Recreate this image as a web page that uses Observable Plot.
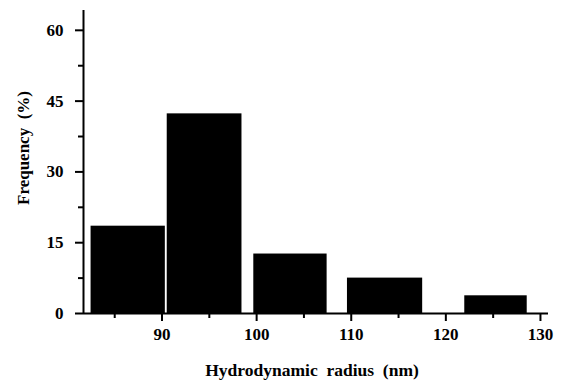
<!DOCTYPE html>
<html>
<head>
<meta charset="utf-8">
<script src="https://cdn.jsdelivr.net/npm/d3@7"></script>
<script src="https://cdn.jsdelivr.net/npm/@observablehq/plot@0.6"></script>
<style>
  body { margin: 0; background: #fff; }
</style>
</head>
<body>
<div id="chart"></div>
<script>
const binStart = [82.5, 90.55, 99.7, 109.6, 122.0];
const binEnd = [90.35, 98.45, 107.45, 117.55, 128.6];
const freq = [18.5, 42.3, 12.6, 7.5, 3.75];
const xMajor = [90, 100, 110, 120, 130];
const xMinor = [85, 95, 105, 115, 125];
const yMajor = [0, 15, 30, 45, 60];
const yMinor = [7.5, 22.5, 37.5, 52.5];
const xTitle = "Hydrodynamic  radius  (nm)";
const yTitle = "Frequency  (%)";

const data = binStart.map((s, i) => ({x1: s, x2: binEnd[i], y: freq[i]}));
const xDomain = [81.7, 130.85];

const chart = Plot.plot({
  width: 564,
  height: 385,
  marginLeft: 83,
  marginRight: 16,
  marginTop: 10,
  marginBottom: 72,
  style: {fontFamily: "'Liberation Serif', 'Times New Roman', serif", fontWeight: "bold", fontSize: "17px", color: "black", background: "white"},
  x: {domain: xDomain},
  y: {domain: [0, 64.2]},
  marks: [
    Plot.rectY(data, {x1: "x1", x2: "x2", y: "y", fill: "black"}),
    Plot.ruleY([0], {stroke: "black", strokeWidth: 2}),
    Plot.ruleX([xDomain[0]], {stroke: "black", strokeWidth: 2}),
    Plot.axisX(xMajor, {tickSize: 8, tickPadding: 6, strokeWidth: 2, label: null, fontSize: 17}),
    Plot.axisX(xMinor, {tickSize: 5, strokeWidth: 2, tickFormat: () => "", label: null}),
    Plot.axisY(yMajor, {tickSize: 8, tickPadding: 12, strokeWidth: 2, label: null, fontSize: 17}),
    Plot.axisY(yMinor, {tickSize: 5, strokeWidth: 2, tickFormat: () => "", label: null}),
    Plot.text([xTitle], {frameAnchor: "bottom", dy: 62, dx: -4, text: d => d, fontSize: 17.5, fontWeight: "bold"}),
    Plot.text([yTitle], {frameAnchor: "left", textAnchor: "middle", dx: -60, dy: -14, rotate: -90, text: d => d, fontSize: 17, fontWeight: "bold"})
  ]
});
document.getElementById("chart").appendChild(chart);
</script>
</body>
</html>
